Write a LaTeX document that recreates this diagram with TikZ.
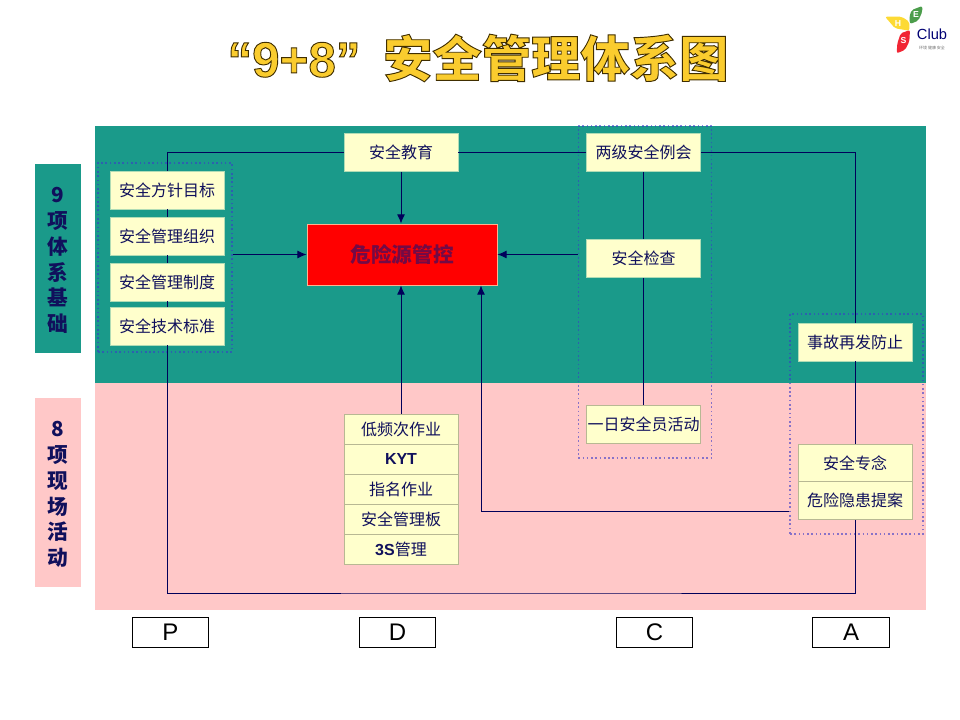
\documentclass[tikz,border=0pt]{standalone}
\usepackage{fontspec}
\usetikzlibrary{arrows.meta}
\setmainfont{Liberation Sans}
\newfontfamily\cjk{Noto Sans CJK SC}
\definecolor{bandgreen}{RGB}{26,154,138}
\definecolor{bandpink}{RGB}{255,200,200}
\definecolor{boxfill}{RGB}{255,255,204}
\definecolor{inknavy}{RGB}{16,16,92}
\definecolor{linenavy}{RGB}{0,0,90}
\definecolor{hazardink}{RGB}{115,10,70}
\definecolor{titlegold}{RGB}{250,204,46}
\definecolor{dotblue}{RGB}{58,58,200}
\newcommand{\outlined}[1]{\special{pdf:code q 2 Tr 0.7 w 0.25 0.18 0 RG}#1\special{pdf:code Q}}

\begin{document}
\begin{tikzpicture}[x=0.75pt,y=-0.75pt, line cap=butt, line join=miter]

% styles (one unit is one pixel of the slide)
\tikzset{
  main/.style={draw=linenavy, line width=0.75pt},
  flow/.style={main, -{Latex[length=7pt,width=6pt]}},
  band/.style={draw=none, inner sep=0pt, minimum width=623.25pt},
  side/.style={draw=none, inner sep=0pt, minimum width=34.5pt, minimum height=141.75pt},
  sidetext/.style={inner sep=0pt, align=center, text=inknavy,
    font=\bfseries\cjk\fontsize{15.5}{19.3}\selectfont},
  task/.style={draw=bandgreen!35!boxfill, line width=0.6pt, fill=boxfill, text=inknavy, inner sep=0pt,
    minimum width=85.5pt, minimum height=28.5pt, font=\cjk\fontsize{12}{14}\selectfont},
  lowtask/.style={task, draw=black!28!boxfill, minimum height=22.5pt},
  group/.style={draw=dotblue, draw opacity=0.6, line width=1.2pt, dotted, inner sep=0pt},
  pdca/.style={draw=black, line width=0.6pt, fill=white, inner sep=0pt,
    minimum width=57.5pt, minimum height=23pt, font=\fontsize{18}{20}\selectfont},
  logoletter/.style={text=white, inner sep=0pt, font=\rmfamily\bfseries\fontsize{6.5}{7}\selectfont},
}

\useasboundingbox (0,0) rectangle (960,720);

  % title
  \node[text=titlegold, inner sep=0pt, font=\bfseries\fontsize{37}{40}\selectfont] (title) at (478,58)
    {\outlined{“9+8”\hspace{17pt}{\cjk 安全管理体系图}}};

  % logo
  \fill[rounded corners=1.5pt, yellow!70!orange!80!white] (885,16.7) -- (901.7,16.7) -- (909.3,21.7) -- (909.3,30.7) -- (895,28.3) -- cycle;
  \fill[rounded corners=1.5pt, green!45!black!70!white] (922.3,6) -- (911.7,10) -- (909.3,16.7) -- (910,24) -- (918.3,20.7) -- (922.3,11.7) -- cycle;
  \fill[rounded corners=1.5pt, red!75!purple!85!white] (910,30) -- (900.7,33.3) -- (897.3,43.3) -- (896.7,53.3) -- (905,50) -- (909.3,41.7) -- cycle;
  \node[logoletter] (logoH) at (898,23.5) {H};
  \node[logoletter] (logoE) at (916,15) {E};
  \node[logoletter] (logoS) at (903.5,41) {S};
  \node[text=blue!45!black, inner sep=0pt, font=\fontsize{11}{12}\selectfont] (logoClub) at (932,34) {Club};
  \node[text=black!55, inner sep=0pt, font=\cjk\fontsize{3}{4}\selectfont] (logoSub) at (932,47.5) {环境\ 健康\ 安全};

  % bands
  \node[band, fill=bandgreen, minimum height=192.75pt] (upper) at (510.5,254.5) {};
  \node[band, fill=bandpink, minimum height=170.25pt] (lower) at (510.5,496.5) {};
  \node[side, fill=bandgreen] (sideNine) at (58,258.5) {};
  \node[side, fill=bandpink] (sideEight) at (58,492.5) {};
  \node[sidetext] (nineText) at (58,260.5) {9\\项\\体\\系\\基\\础};
  \node[sidetext] (eightText) at (58,494.5) {8\\项\\现\\场\\活\\动};

  % dotted groups
  \node[group, minimum width=100.5pt, minimum height=141.75pt] (groupPlan) at (165,257.5) {};
  \node[group, minimum width=100pt, minimum height=249pt] (groupCheck) at (645,292) {};
  \node[group, minimum width=99.75pt, minimum height=165pt] (groupAct) at (856.5,424) {};

  % plan boxes
  \node[task] (target) at (167,190) {安全方针目标};
  \node[task] (organ) at (167,236) {安全管理组织};
  \node[task] (rules) at (167,282) {安全管理制度};
  \node[task] (tech) at (167,326) {安全技术标准};

  % centre boxes
  \node[task] (teach) at (401,152.5) {安全教育};
  \node[draw=boxfill!70!red, line width=0.6pt, fill=red, text=hazardink, inner sep=0pt,
    minimum width=142.5pt, minimum height=45.75pt, font=\bfseries\cjk\fontsize{15.5}{18}\selectfont] (hazard) at (402,254.5) {危险源管控};

  % do stack
  \node[lowtask] (lowfreq) at (401,429) {低频次作业};
  \node[lowtask, font=\normalfont\bfseries\fontsize{12}{14}\selectfont] (kyt) at (401,459) {KYT};
  \node[lowtask] (named) at (401,489.5) {指名作业};
  \node[lowtask] (board) at (401,519.5) {安全管理板};
  \node[lowtask] (tidy) at (401,549.5) {{\normalfont\bfseries 3S}管理};

  % check boxes
  \node[task] (meeting) at (643.5,152.5) {两级安全例会};
  \node[task] (patrol) at (643.5,258.5) {安全检查};
  \node[task, draw=black!28!boxfill] (daily) at (643.5,424.5) {一日安全员活动};

  % act boxes
  \node[task] (recur) at (855,342) {事故再发防止};
  \node[task, draw=black!28!boxfill] (mind) at (855,463) {安全专念};
  \node[task, draw=black!28!boxfill] (report) at (855,500.5) {危险隐患提案};

  % pdca labels
  \node[pdca] (stepP) at (170.5,632.5) {P};
  \node[pdca] (stepD) at (397.5,632.5) {D};
  \node[pdca] (stepC) at (654.5,632.5) {C};
  \node[pdca] (stepA) at (851,632.5) {A};

  % big loop
  \coordinate (loopB) at (511,593);
  \coordinate (feedB) at (481,511);
  \draw[main] (teach.west) -| (target.north);
  \draw[main] (target.south) -- (organ.north);
  \draw[main] (organ.south) -- (rules.north);
  \draw[main] (rules.south) -- (tech.north);
  \draw[main] (tech.south) |- (loopB) -| (report.south);
  \draw[main] (mind.north) -- (recur.south);
  \draw[main] (recur.north) |- (meeting.east);
  \draw[main] (meeting.west) -- (teach.east);

  % check column
  \draw[main] (meeting.south) -- (patrol.north);
  \draw[main] (patrol.south) -- (daily.north);

  % arrows into the red box
  \draw[flow] (teach.south) -- (hazard.north -| teach.south);
  \draw[flow] (groupPlan.east |- hazard.west) -- (hazard.west);
  \draw[flow] (groupCheck.west |- hazard.east) -- (hazard.east);
  \draw[flow] (lowfreq.north) -- (hazard.south -| lowfreq.north);
  \draw[flow] (groupAct.west |- feedB) -- (feedB) -- (feedB |- hazard.south);

\end{tikzpicture}
\end{document}
